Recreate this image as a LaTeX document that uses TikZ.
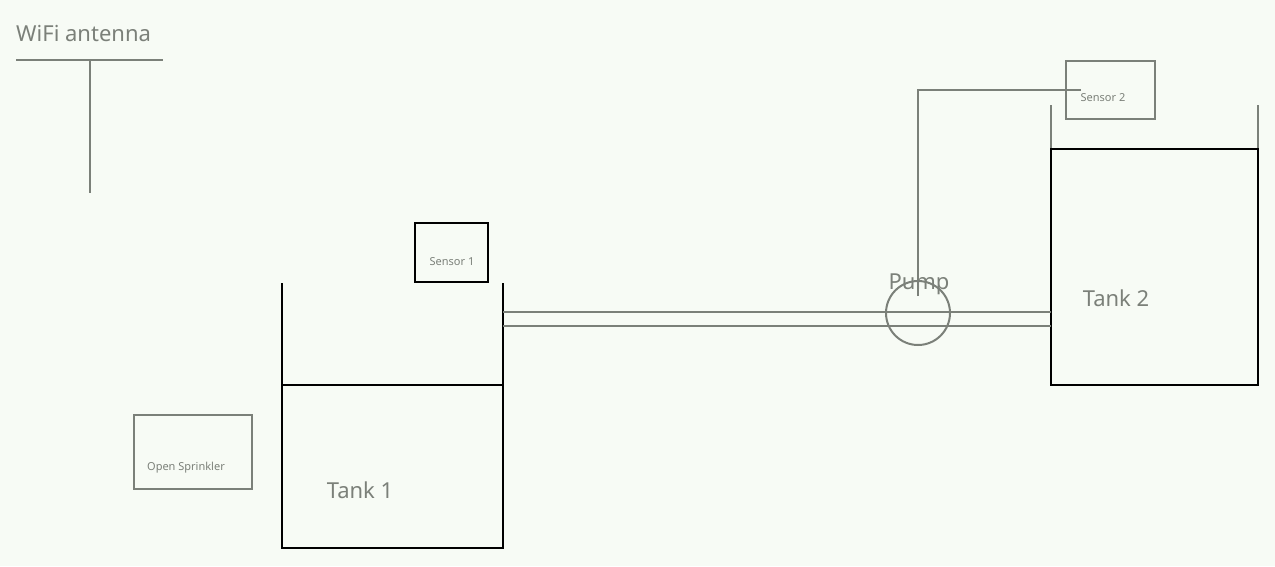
\documentclass[tikz,border=0pt]{standalone}
\usepackage{fontspec}
\setmainfont{Noto Sans}
\definecolor{bg}{HTML}{F7FBF5}
\definecolor{pipegray}{HTML}{7B8079}

\begin{document}
\begin{tikzpicture}[
  x=1pt, y=-1pt,
  wire/.style={draw=pipegray, line width=2pt},
  wall/.style={draw=black, line width=2pt},
  box/.style={inner sep=0pt, line width=2pt},
  biglabel/.style={text=pipegray, font=\fontsize{22}{26}\selectfont, inner sep=0pt},
  smalllabel/.style={text=pipegray, font=\fontsize{11}{13}\selectfont, inner sep=0pt}
]
\fill[bg] (0,0) rectangle (1275,566);
\useasboundingbox (0,0) rectangle (1275,566);

% antenna
\node[biglabel, anchor=west] (wifi) at (16,33) {WiFi antenna};
\coordinate (antL) at (16,60);
\coordinate (antR) at (163,60);
\coordinate (antTop) at (90,60);
\coordinate (antBot) at (90,193);
\draw[wire] (antL) -- (antR);
\draw[wire] (antTop) -- (antBot);

% sprinkler
\node[box, draw=pipegray, minimum width=118pt, minimum height=74pt] (sprinkler) at (193,452) {};
\node[smalllabel] (sprinklerlbl) at (186,467.5) {Open Sprinkler};

% tank 1
\coordinate (t1tl) at (282,283);
\coordinate (t1tr) at (503,283);
\coordinate (t1bl) at (282,548);
\coordinate (t1br) at (503,548);
\draw[wall] (t1tl) -- (t1bl) -- (t1br) -- (t1tr);
\draw[wall] (282,385) -- (503,385);
\node[biglabel] (tank1) at (360,490.5) {Tank 1};

\node[box, draw=black, minimum width=73pt, minimum height=59pt] (sensorA) at (451.5,252.5) {};
\node[smalllabel] (sensorAlbl) at (452,261.5) {Sensor 1};

% tank 2
\coordinate (t2tl) at (1051,149);
\coordinate (t2br) at (1258,385);
\draw[wire] (1051,105) -- (t2tl);
\draw[wire] (1258,105) -- (1258,149);
\draw[wall] (t2tl) rectangle (t2br);
\node[biglabel] (tank2) at (1116,298) {Tank 2};

\node[box, draw=pipegray, minimum width=89pt, minimum height=58pt] (sensorB) at (1110.5,90) {};
\node[smalllabel] (sensorBlbl) at (1103,97.5) {Sensor 2};

% pipe and pump
\draw[wire] (503,312) -- (1051,312);
\draw[wire] (503,326) -- (1051,326);
\node[circle, draw=pipegray, line width=2pt, minimum size=64pt, inner sep=0pt] (pump) at (918,313) {};
\node[biglabel] (pumplbl) at (919,284) {Pump};
\coordinate (probe) at (918,296);
\coordinate (probeEnd) at (1081,90);
\draw[wire] (probe) |- (probeEnd);

\end{tikzpicture}
\end{document}
